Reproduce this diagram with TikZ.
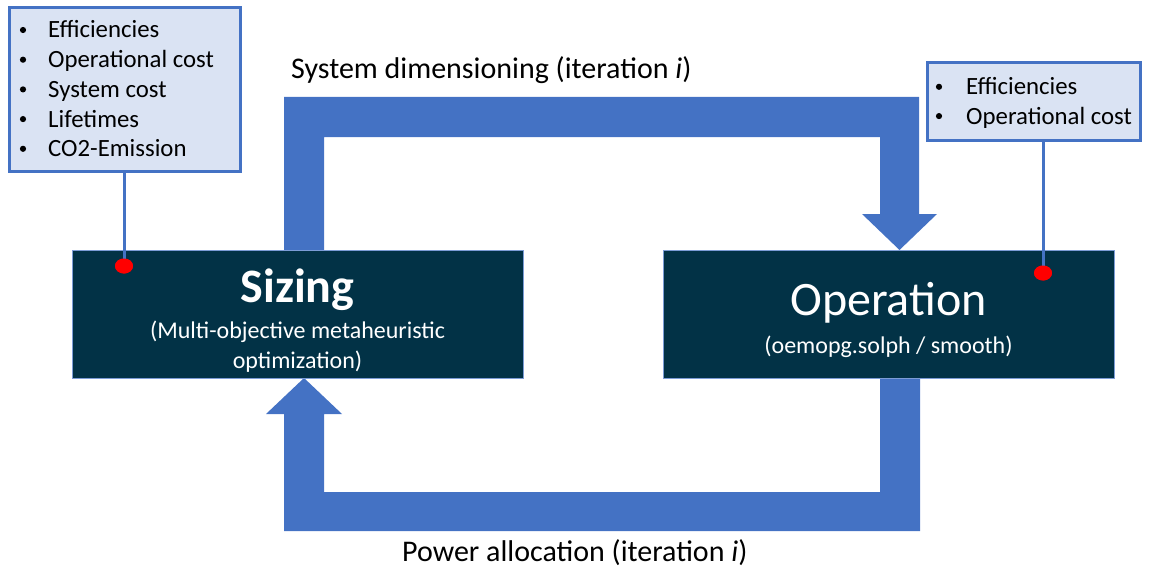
\documentclass[tikz,border=0pt]{standalone}
\usepackage{fontspec}
\setmainfont{Carlito}
\usetikzlibrary{shapes.geometric}
\definecolor{arrowblue}{HTML}{4472C4}
\definecolor{infofill}{HTML}{DAE3F3}
\definecolor{darkbox}{HTML}{023246}
\begin{document}
\begin{tikzpicture}[x=1pt,y=-1pt,
  procbox/.style={draw=arrowblue!70, line width=0.8pt, fill=darkbox, inner sep=0pt, minimum width=451pt, minimum height=128pt},
  infobox/.style={draw=arrowblue, line width=3pt, fill=infofill, inner sep=0pt},
  bigarrow/.style={fill=arrowblue},
  reddot/.style={ellipse, fill=red, minimum width=18pt, minimum height=15pt, inner sep=0pt},
  infoline/.style={draw=arrowblue, line width=3pt},
  btext/.style={anchor=base west, inner sep=0pt, font=\fontsize{24.8}{29}\selectfont},
  bdot/.style={circle, fill=black, minimum size=6.2pt, inner sep=0pt},
  titletext/.style={anchor=base, inner sep=0pt, text=white, font=\fontsize{48}{58}\selectfont},
  subtext/.style={anchor=base, inner sep=0pt, text=white, font=\fontsize{24}{29}\selectfont},
  flowlabel/.style={anchor=base west, inner sep=0pt, font=\fontsize{30}{36}\selectfont}
]
\useasboundingbox (0,0) rectangle (1153,567);

% big arrows
\fill[bigarrow] (284,250) -- (284,97) -- (919,97) -- (919,214) -- (937,214) -- (899.5,250)
  -- (862,214) -- (880,214) -- (880,137) -- (324,137) -- (324,250) -- cycle;
\fill[bigarrow] (880,378) -- (880,492) -- (324,492) -- (324,414) -- (342,414) -- (304,378)
  -- (266,414) -- (284,414) -- (284,531) -- (920,531) -- (920,378) -- cycle;

% process boxes
\node[procbox] (sizing) at (297.5,314) {};
\node[procbox] (operation) at (888.5,314) {};
\node[titletext] (sizingT) at (297.5,302) {\bfseries Sizing};
\node[subtext] (sizingS1) at (297.5,338) {(Multi-objective metaheuristic};
\node[subtext] (sizingS2) at (297.5,368) {optimization)};
\node[titletext] (operationT) at (888.5,315) {Operation};
\node[subtext] (operationS) at (888.5,353) {(oemopg.solph / smooth)};

% info boxes
\node[infobox, minimum width=231pt, minimum height=163pt] (infoL) at (124.5,89.5) {};
\node[infobox, minimum width=213pt, minimum height=77pt] (infoR) at (1033.5,101.5) {};
\foreach \t [count=\i] in {Efficiencies, Operational cost, System cost, Lifetimes, CO2-Emission}{
  \node[bdot] (bl\i) at (23,{8.3+29.7*\i-8}) {};
  \node[btext] (tl\i) at (48,{8.3+29.7*\i}) {\t};
}
\foreach \t [count=\i] in {Efficiencies, Operational cost}{
  \node[bdot] (br\i) at (939,{65.5+29.3*\i-8}) {};
  \node[btext] (tr\i) at (966,{65.5+29.3*\i}) {\t};
}

% red dots and leader lines
\node[reddot] (dotL) at (124,266) {};
\node[reddot] (dotR) at (1043,273) {};
\draw[infoline] (infoL.south -| dotL) -- (dotL.center);
\draw[infoline] (infoR.south -| dotR) -- (dotR.center);
\node[reddot] at (dotL) {};
\node[reddot] at (dotR) {};

% flow labels
\node[flowlabel] (topLabel) at (291,79) {System dimensioning (iteration \textit{i})};
\node[flowlabel] (bottomLabel) at (402,561) {Power allocation (iteration \textit{i})};
\end{tikzpicture}
\end{document}
